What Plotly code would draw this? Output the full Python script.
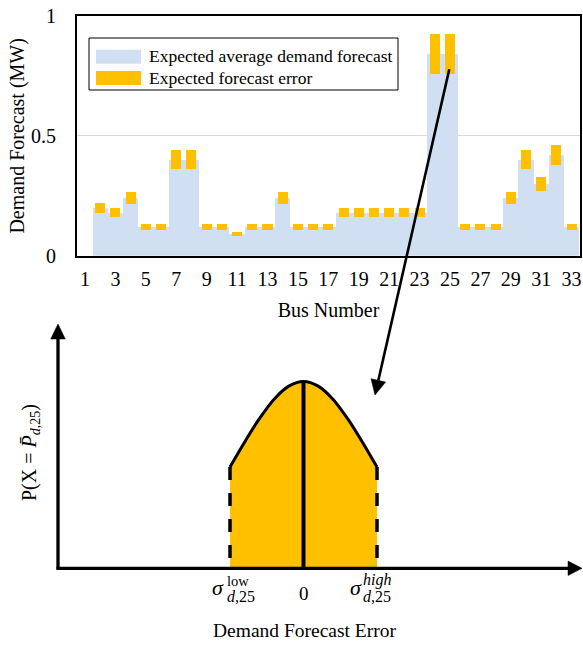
import math
import plotly.graph_objects as go

# ---------------- data ----------------
buses = list(range(2, 34))
demand = [0.20, 0.18, 0.24, 0.12, 0.12, 0.40, 0.40, 0.12, 0.12, 0.09, 0.12, 0.12,
          0.24, 0.12, 0.12, 0.12, 0.18, 0.18, 0.18, 0.18, 0.18, 0.18, 0.84, 0.84,
          0.12, 0.12, 0.12, 0.24, 0.40, 0.30, 0.42, 0.12]
error = [0.020, 0.018, 0.024, 0.012, 0.012, 0.040, 0.040, 0.012, 0.012, 0.009, 0.012, 0.012,
         0.024, 0.012, 0.012, 0.012, 0.018, 0.018, 0.018, 0.018, 0.018, 0.018, 0.084, 0.084,
         0.012, 0.012, 0.012, 0.024, 0.040, 0.030, 0.042, 0.012]
bus_ticks = list(range(1, 34, 2))
y_ticks = [0, 0.5, 1]
y_tick_text = ["0", "0.5", "1"]

# schematic distribution of the forecast error at bus 25
err_x = [-1.0, -0.8, -0.6, -0.4, -0.2, 0.0, 0.2, 0.4, 0.6, 0.8, 1.0]
err_p = [0.54, 0.675, 0.80, 0.905, 0.975, 1.0, 0.975, 0.905, 0.80, 0.675, 0.54]
sigma_low, sigma_high = -1.0, 1.0

BLUE = "#D0DFF2"
ORANGE = "#FFC000"
SERIF = "Liberation Serif"

W, H = 583, 645


def px(x):
    return x / W


def py(y):
    return 1 - y / H


fig = go.Figure()

fig.add_trace(go.Bar(x=buses, y=demand, width=1, marker=dict(color=BLUE, line=dict(width=0)),
                     name="Expected average demand forecast", showlegend=False))
fig.add_trace(go.Bar(x=buses, y=[2 * e for e in error], base=[d - e for d, e in zip(demand, error)],
                     width=0.66, marker=dict(color=ORANGE, line=dict(width=0)),
                     name="Expected forecast error", showlegend=False))

# bottom schematic
fig.add_trace(go.Scatter(x=err_x, y=err_p, mode="lines", xaxis="x2", yaxis="y2",
                         line=dict(color="black", width=3, shape="spline", smoothing=0.8),
                         fill="tozeroy", fillcolor=ORANGE, showlegend=False))
fig.add_trace(go.Scatter(x=[sigma_low, sigma_low], y=[err_p[0], 0], mode="lines", xaxis="x2", yaxis="y2",
                         line=dict(color="black", width=3.5, dash="13px,13px"), showlegend=False))
fig.add_trace(go.Scatter(x=[sigma_high, sigma_high], y=[err_p[-1], 0], mode="lines", xaxis="x2", yaxis="y2",
                         line=dict(color="black", width=3.5, dash="13px,13px"), showlegend=False))
fig.add_trace(go.Scatter(x=[0, 0], y=[0, max(err_p)], mode="lines", xaxis="x2", yaxis="y2",
                         line=dict(color="black", width=4), showlegend=False))

# ---------------- geometry ----------------
x_unit = 73.5
x_zero = 303.5
y_zero = 567.5
y_unit = 186.0

shapes = []
annotations = []


def line(x0, y0, x1, y1, w, color="black"):
    shapes.append(dict(type="line", xref="paper", yref="paper", x0=px(x0), y0=py(y0),
                       x1=px(x1), y1=py(y1), line=dict(color=color, width=w), layer="above"))


def head(tip, tail, length, half):
    dx, dy = tip[0] - tail[0], tip[1] - tail[1]
    n = math.hypot(dx, dy)
    ux, uy = dx / n, dy / n
    bx, by = tip[0] - ux * length, tip[1] - uy * length
    nx, ny = -uy, ux
    p1 = (bx + nx * half, by + ny * half)
    p2 = (bx - nx * half, by - ny * half)
    path = "M {},{} L {},{} L {},{} Z".format(px(tip[0]), py(tip[1]), px(p1[0]), py(p1[1]),
                                              px(p2[0]), py(p2[1]))
    shapes.append(dict(type="path", xref="paper", yref="paper", path=path,
                       fillcolor="black", line=dict(color="black", width=0.5), layer="above"))
    return bx, by


# diagram axes
line(58, 569.5, 58, 336, 3.3)
head((58, 324), (58, 568), 15, 7.3)
line(56.5, 568.3, 570, 568.3, 3.3)
head((582, 568.3), (58, 568.3), 14, 7.2)
# pointer arrow from bus 25
bx, by = head((375, 395), (449.3, 69.3), 15, 7.5)
line(449.3, 69.3, bx, by, 2.6)

# custom legend
shapes.append(dict(type="rect", xref="paper", yref="paper", x0=px(89), y0=py(38), x1=px(398), y1=py(90),
                   line=dict(color="black", width=1), fillcolor="white", layer="above"))
shapes.append(dict(type="rect", xref="paper", yref="paper", x0=px(96), y0=py(49.7), x1=px(141), y1=py(63.7),
                   line=dict(width=0), fillcolor=BLUE, layer="above"))
shapes.append(dict(type="rect", xref="paper", yref="paper", x0=px(96), y0=py(71), x1=px(141), y1=py(85),
                   line=dict(width=0), fillcolor=ORANGE, layer="above"))
for txt, yy in [("Expected average demand forecast", 56.5), ("Expected forecast error", 78)]:
    annotations.append(dict(text=txt, x=px(146.5), y=py(yy), xref="paper", yref="paper", xanchor="left",
                            yanchor="middle", showarrow=False, font=dict(family=SERIF, size=17.5, color="black")))


# diagram labels
def ann(text, x, y, size, xanchor="center", angle=0):
    annotations.append(dict(text=text, x=px(x), y=py(y), xref="paper", yref="paper", xanchor=xanchor,
                            yanchor="middle", showarrow=False, textangle=angle, borderpad=0,
                            font=dict(family=SERIF, size=size, color="black")))


ann("<i>σ</i>", 218, 587, 22)
ann("low", 225.5, 580.5, 14.5, xanchor="left")
ann("<i>d</i>,25", 225.5, 596, 16, xanchor="left")
ann("0", 304.5, 593, 19)
ann("<i>σ</i>", 356, 587, 22)
ann("<i>high</i>", 362, 580, 16, xanchor="left")
ann("<i>d</i>,25", 362, 596.5, 16, xanchor="left")
ann("Demand Forecast Error", 305, 630, 19.5)
ann("P(X = <i>P̄</i><sub><i>d</i>,25</sub>)", 30, 453, 20, angle=-90)

x_lo = 1 + (77 - 85) / 15.207
x_hi = 1 + (580 - 85) / 15.207

fig.update_layout(
    width=W, height=H, margin=dict(l=0, r=0, t=0, b=0),
    paper_bgcolor="white", plot_bgcolor="rgba(0,0,0,0)",
    barmode="overlay", bargap=0, showlegend=False,
    font=dict(family=SERIF, size=20, color="black"),
    xaxis=dict(domain=[px(77), px(580)], range=[x_lo, x_hi], tickmode="array", tickvals=bus_ticks,
               ticktext=[str(t) for t in bus_ticks], ticks="outside", ticklen=4,
               tickcolor="rgba(0,0,0,0)", showgrid=False, zeroline=False, showline=True,
               linecolor="black", linewidth=1.8, mirror=True, automargin=False,
               tickfont=dict(family=SERIF, size=20),
               title=dict(text="Bus Number", font=dict(family=SERIF, size=20), standoff=14)),
    yaxis=dict(domain=[py(255.7), py(16)], range=[0, 1], tickmode="array", tickvals=y_ticks,
               ticktext=y_tick_text, ticks="outside", ticklen=15, tickcolor="rgba(0,0,0,0)",
               showgrid=True, gridcolor="#D9D9D9", gridwidth=1.3, zeroline=False, showline=True,
               linecolor="black", linewidth=1.8, mirror=True, automargin=False,
               tickfont=dict(family=SERIF, size=20),
               title=dict(text="Demand Forecast (MW)", font=dict(family=SERIF, size=20), standoff=1)),
    xaxis2=dict(domain=[0, 1], range=[(0 - x_zero) / x_unit, (W - x_zero) / x_unit], visible=False,
                anchor="y2", fixedrange=True),
    yaxis2=dict(domain=[0, py(330)], range=[(y_zero - H) / y_unit, (y_zero - 330) / y_unit],
                visible=False, anchor="x2", fixedrange=True),
    shapes=shapes, annotations=annotations,
)

fig.write_html("out.html")
